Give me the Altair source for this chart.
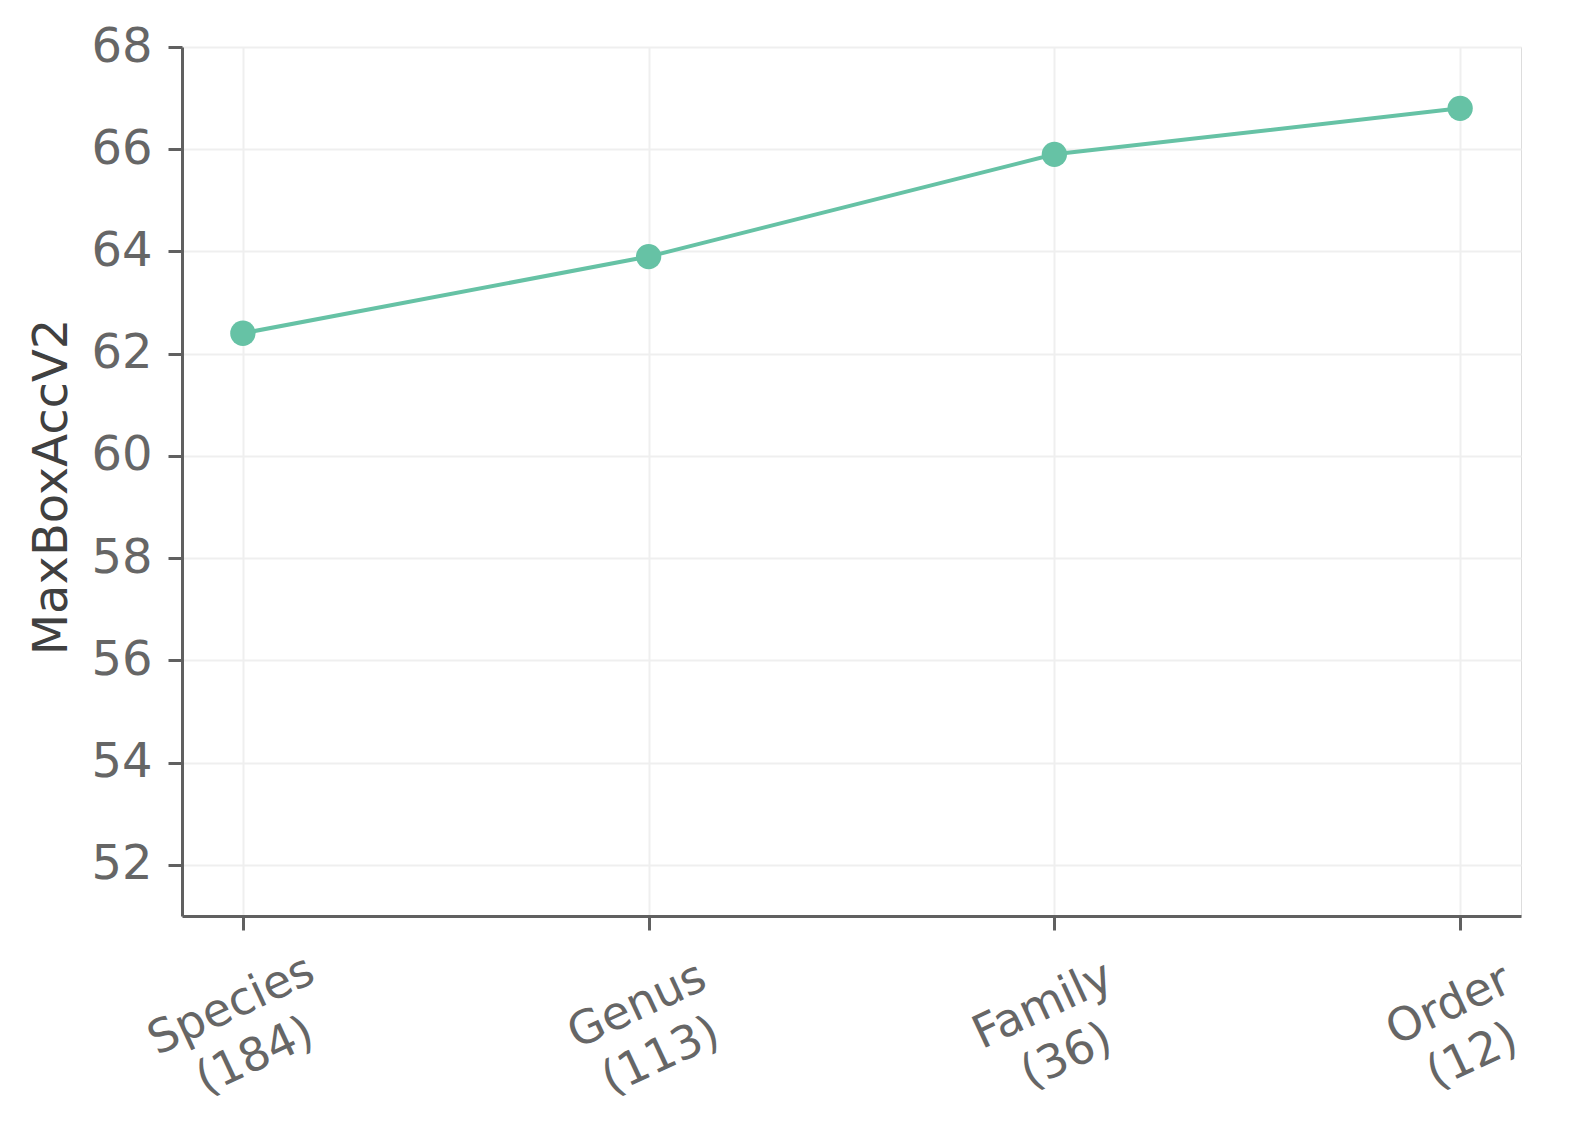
import altair as alt
import pandas as pd

levels = ["Species", "Genus", "Family", "Order"]
counts = [184, 113, 36, 12]
scores = [62.4, 63.9, 65.9, 66.8]
y_ticks = [52, 54, 56, 58, 60, 62, 64, 66, 68]

labels = [f"{l}\n({c})" for l, c in zip(levels, counts)]
df = pd.DataFrame({"level": labels, "score": scores})

W, H = 1339, 869
COLOR = "#66c2a5"
AX = "#606060"
GRID = "#efefef"
FONT = "DejaVu Sans"

x = alt.X(
    "level:N",
    sort=labels,
    scale=alt.Scale(type="point", padding=0.15),
    axis=alt.Axis(
        title=None,
        labelExpr="split(datum.label, '\\n')",
        labelAngle=-25,
        labelAlign="center",
        labelBaseline="middle",
        labelPadding=75,
        labelOffset=-12,
        labelLineHeight=56,
        labelFontSize=46,
        labelColor="#666666",
        labelFont=FONT,
        tickSize=14,
        tickWidth=3,
        tickColor=AX,
        domainColor=AX,
        domainWidth=3,
        grid=True,
        gridColor=GRID,
        gridWidth=2,
    ),
)

y = alt.Y(
    "score:Q",
    scale=alt.Scale(domain=[51, 68], nice=False, zero=False),
    axis=alt.Axis(
        title="MaxBoxAccV2",
        values=y_ticks,
        format="d",
        labelFontSize=48,
        labelColor="#666666",
        labelFont=FONT,
        labelPadding=16,
        titleFontSize=48,
        titleFont=FONT,
        titleFontWeight="normal",
        titleColor="#404040",
        titleX=-130,
        titleY=H / 2 + 5,
        titleAngle=-90,
        titleAlign="center",
        titleBaseline="middle",
        tickSize=14,
        tickWidth=3,
        tickColor=AX,
        domainColor=AX,
        domainWidth=3,
        grid=True,
        gridColor=GRID,
        gridWidth=2,
    ),
)

base = alt.Chart(df)
line = base.mark_line(color=COLOR, strokeWidth=4).encode(x=x, y=y)
pts = base.mark_circle(color=COLOR, size=640, opacity=1).encode(x=x, y=y)

chart = (
    alt.layer(line, pts)
    .properties(
        width=W,
        height=H,
        autosize=alt.AutoSizeParams(type="none"),
        padding={"left": 174, "top": 39, "right": 30, "bottom": 200},
    )
    .configure_view(stroke=None)
    .configure(background="white")
)

chart.save("out.html", embed_options={"renderer": "svg", "actions": False})
